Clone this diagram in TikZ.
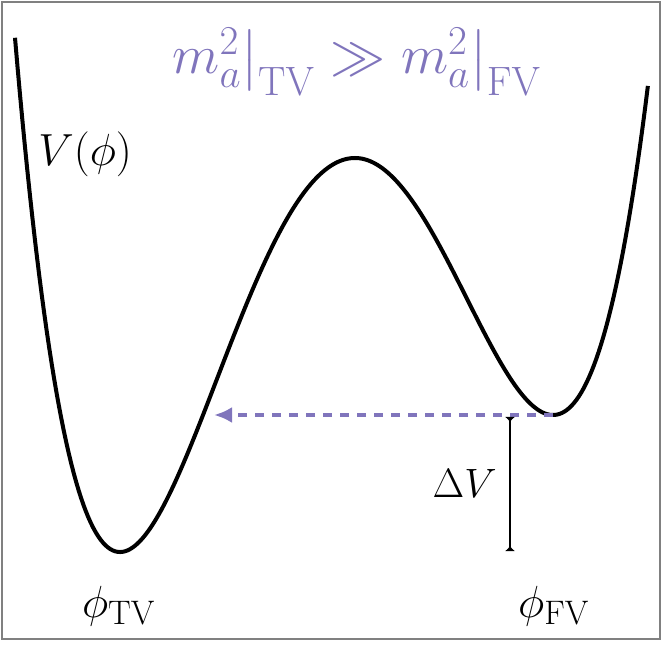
\RequirePackage{fix-cm}
\documentclass[tikz,border=0pt]{standalone}
\usepackage{amsmath}
\usetikzlibrary{arrows.meta}
\DeclareMathSizes{27.5}{27.5}{20.5}{15}
\DeclareMathSizes{22.5}{22.5}{17}{12}
\DeclareMathSizes{20.5}{20.5}{15}{11}
\definecolor{lav}{RGB}{128,117,188}
\tikzset{
  curve/.style={line width=2pt, line join=round},
  titlefont/.style={font=\fontsize{27.5}{33}\selectfont, text=lav, inner sep=0pt},
  labelfont/.style={font=\fontsize{22.5}{27}\selectfont, inner sep=0pt},
  smallfont/.style={font=\fontsize{20.5}{25}\selectfont, inner sep=0pt},
  tunnel/.style={lav, line width=2pt, dash pattern=on 4.5pt off 4pt, -{Latex[length=9pt,width=8pt]}},
  gap/.style={line width=1pt, {Latex[reversed,length=2.5pt,width=5pt]}-{Latex[reversed,length=2.5pt,width=5pt]}},
  frame/.style={draw=gray, line width=0.75pt}
}
\begin{document}
\begin{tikzpicture}[x=0.5pt, y=-0.5pt]
\useasboundingbox (0,0) rectangle (664,646);
\draw[frame] (2,2) rectangle (660,639);
% potential
\draw[curve] plot[domain=-3.4:0, samples=140, variable=\s]
  ({355+100*\s},{158-57.74*((\s)^4/4+0.123333*(\s)^3-2.3265*(\s)^2)-0.06506*((\s)*((\s)+2.35)*((\s)-1.98))^2})
  -- plot[domain=0:2.93, samples=120, variable=\s]
  ({355+100*\s},{158-59.48*((\s)^4/4+0.123333*(\s)^3-2.3265*(\s)^2)+0.0903*((\s)*((\s)+2.35)*((\s)-1.98))^2});
\coordinate (fv) at (553,415);
\coordinate (tip) at (214,415);
\coordinate (dvtop) at (510,417);
\coordinate (dvbot) at (510,551);
\draw[tunnel] (fv) -- (tip);
\draw[gap] (dvtop) -- (dvbot);
\node[titlefont, anchor=base] (title) at (357,74) {$m_a^2\big|_{\mathrm{TV}} \gg m_a^2\big|_{\mathrm{FV}}$};
\node[labelfont, anchor=base west] (vlab) at (38,166) {$V(\phi)$};
\node[labelfont, anchor=base] (tv) at (119,617) {$\phi_{\mathrm{TV}}$};
\node[labelfont, anchor=base] (fvl) at (554,617) {$\phi_{\mathrm{FV}}$};
\node[smallfont, anchor=base east] (dv) at (497,497) {$\Delta V$};
\end{tikzpicture}
\end{document}
